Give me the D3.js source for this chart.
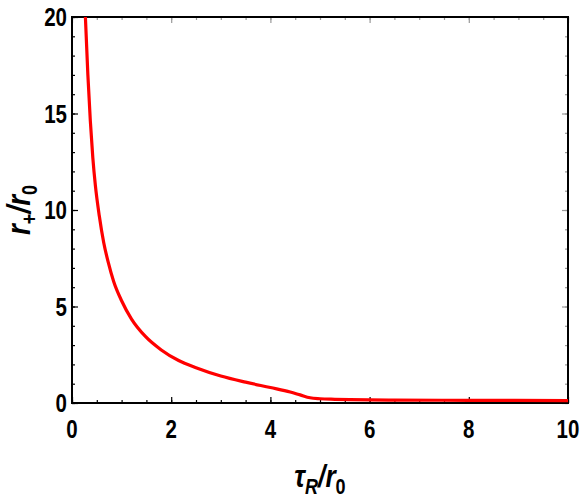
<!DOCTYPE html>
<html>
<head>
<meta charset="utf-8">
<script src="https://cdn.jsdelivr.net/npm/d3@7"></script>
<style>
  body { margin: 0; background: #fff; }
  text { font-family: "Liberation Sans", Arial, sans-serif; font-weight: bold; }
</style>
</head>
<body>
<div id="chart"></div>
<script>
// values
var tau = [0.27, 0.32, 0.37, 0.42, 0.47, 0.55, 0.64, 0.73, 0.84, 1.0, 1.2, 1.48, 1.8, 2.15, 2.5, 3.0, 3.5, 4.0, 4.4, 4.6, 4.8, 5.0, 5.3, 5.6, 6.5, 8, 10]
var rplus = [20, 17.0, 14.6, 12.7, 11.3, 9.7, 8.3, 7.3, 6.3, 5.3, 4.35, 3.45, 2.75, 2.2, 1.83, 1.40, 1.08, 0.8, 0.57, 0.42, 0.27, 0.22, 0.19, 0.17, 0.15, 0.14, 0.12]
var xTicks = [0, 2, 4, 6, 8, 10]
var yTicks = [0, 5, 10, 15, 20]

var width = 581,
    height = 498,
    margin = {top: 17, right: 13, bottom: 95, left: 72},
    narrow = 0.82

var svg = d3.select('#chart').append('svg')
    .attr('width', width)
    .attr('height', height)

var x = d3.scaleLinear()
    .domain([0, 10])
    .range([margin.left, width - margin.right])

var y = d3.scaleLinear()
    .domain([0, 20])
    .range([height - margin.bottom, margin.top])

var xMinor = d3.range(0, 10.01, 0.5),
    yMinor = d3.range(0, 20.01, 1)

// inward ticks on all four sides
function ticks(g, axis, color) {
    g.call(axis)
    g.select('.domain').remove()
    g.selectAll('.tick line').attr('stroke', color).attr('stroke-width', 1.2)
    g.selectAll('.tick text').remove()
}

svg.append('g').attr('transform', 'translate(0,' + y(0) + ')')
    .call(ticks, d3.axisTop(x).tickValues(xMinor).tickSize(3), '#000')
svg.append('g').attr('transform', 'translate(0,' + y(0) + ')')
    .call(ticks, d3.axisTop(x).tickValues(xTicks).tickSize(6), '#000')
svg.append('g').attr('transform', 'translate(' + x(0) + ',0)')
    .call(ticks, d3.axisRight(y).tickValues(yMinor).tickSize(3), '#000')
svg.append('g').attr('transform', 'translate(' + x(0) + ',0)')
    .call(ticks, d3.axisRight(y).tickValues(yTicks).tickSize(6), '#000')
svg.append('g').attr('transform', 'translate(0,' + y(20) + ')')
    .call(ticks, d3.axisBottom(x).tickValues(xMinor).tickSize(3), '#999')
svg.append('g').attr('transform', 'translate(0,' + y(20) + ')')
    .call(ticks, d3.axisBottom(x).tickValues(xTicks).tickSize(6), '#999')
svg.append('g').attr('transform', 'translate(' + x(10) + ',0)')
    .call(ticks, d3.axisLeft(y).tickValues(yMinor).tickSize(3), '#999')
svg.append('g').attr('transform', 'translate(' + x(10) + ',0)')
    .call(ticks, d3.axisLeft(y).tickValues(yTicks).tickSize(6), '#999')

// frame
svg.append('rect')
    .attr('x', x(0)).attr('y', y(20))
    .attr('width', x(10) - x(0)).attr('height', y(0) - y(20))
    .attr('fill', 'none').attr('stroke', '#000').attr('stroke-width', 2)

// tick labels (squeezed to look like a narrow face)
svg.append('g').selectAll('text')
    .data(xTicks).enter().append('text')
    .attr('transform', function (d) { return 'translate(' + x(d) + ',' + (y(0) + 35) + ') scale(' + narrow + ',1)' })
    .attr('text-anchor', 'middle')
    .attr('font-size', 25)
    .text(function (d) { return d })

svg.append('g').selectAll('text')
    .data(yTicks).enter().append('text')
    .attr('transform', function (d) { return 'translate(' + (x(0) - 5) + ',' + (y(d) + 9) + ') scale(' + narrow + ',1)' })
    .attr('text-anchor', 'end')
    .attr('font-size', 25)
    .text(function (d) { return d })

// curve
var line = d3.line()
    .x(function (d, i) { return x(tau[i]) })
    .y(function (d) { return y(d) })
    .curve(d3.curveMonotoneX)

svg.append('path')
    .datum(rplus)
    .attr('d', line)
    .attr('fill', 'none')
    .attr('stroke', '#ff0000')
    .attr('stroke-width', 3.2)

// axis titles
var xt = svg.append('text')
    .attr('transform', 'translate(' + (x(0) + x(10)) / 2 + ',487) scale(' + narrow + ',1)')
    .attr('text-anchor', 'middle')
    .attr('font-size', 32)
xt.append('tspan').attr('font-style', 'italic').text('τ')
xt.append('tspan').attr('font-style', 'italic').attr('font-size', 22).attr('dy', 7).text('R')
xt.append('tspan').attr('font-style', 'italic').attr('dy', -7).text('/r')
xt.append('tspan').attr('font-size', 22).attr('dy', 7).text('0')

var yt = svg.append('text')
    .attr('transform', 'translate(30,' + (y(0) + y(20)) / 2 + ') rotate(-90) scale(' + narrow + ',1)')
    .attr('text-anchor', 'middle')
    .attr('font-size', 34)
yt.append('tspan').attr('font-style', 'italic').text('r')
yt.append('tspan').attr('font-size', 22).attr('dy', 7).text('+')
yt.append('tspan').attr('font-style', 'italic').attr('dy', -7).text('/r')
yt.append('tspan').attr('font-size', 22).attr('dy', 7).text('0')
</script>
</body>
</html>
